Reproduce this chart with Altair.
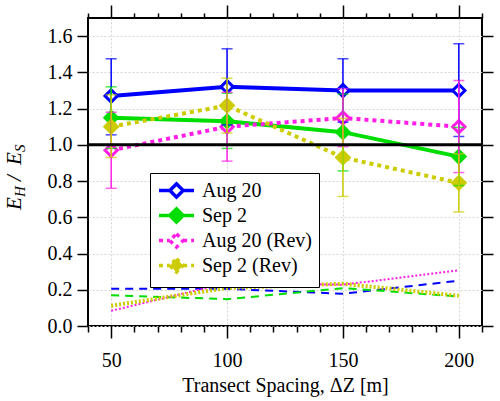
import altair as alt
import pandas as pd

# ---------------- data ----------------
spacing = [50, 100, 150, 200]
series_names = ["Aug 20", "Sep 2", "Aug 20 (Rev)", "Sep 2 (Rev)"]
line_colors = ["#0000ff", "#00dd00", "#ff1ee6", "#cccc00"]
marker_fills = ["#ffffff", "#00dd00", "#ffffff", "#cccc00"]
line_dashes = [[1, 0], [1, 0], [4, 4], [4, 4]]
solid_series = ["Aug 20", "Sep 2"]
dotted_series = ["Aug 20 (Rev)", "Sep 2 (Rev)"]
open_series = ["Aug 20", "Aug 20 (Rev)"]
filled_series = ["Sep 2", "Sep 2 (Rev)"]

ratio = {
    "Aug 20": [1.27, 1.32, 1.30, 1.30],
    "Sep 2": [1.15, 1.13, 1.07, 0.935],
    "Aug 20 (Rev)": [0.97, 1.10, 1.148, 1.10],
    "Sep 2 (Rev)": [1.10, 1.217, 0.93, 0.79],
}
ratio_lo = {
    "Aug 20": [1.055, 1.11, 1.125, 1.046],
    "Sep 2": [0.98, 0.98, 0.856, 0.775],
    "Aug 20 (Rev)": [0.76, 0.91, 0.99, 0.847],
    "Sep 2 (Rev)": [0.93, 1.065, 0.715, 0.63],
}
ratio_hi = {
    "Aug 20": [1.475, 1.53, 1.475, 1.558],
    "Sep 2": [1.32, 1.285, 1.28, 1.096],
    "Aug 20 (Rev)": [1.18, 1.29, 1.31, 1.355],
    "Sep 2 (Rev)": [1.276, 1.368, 1.146, 0.95],
}
low_ratio = {
    "Aug 20": [0.205, 0.205, 0.178, 0.25],
    "Sep 2": [0.17, 0.148, 0.209, 0.163],
    "Aug 20 (Rev)": [0.084, 0.237, 0.228, 0.307],
    "Sep 2 (Rev)": [0.112, 0.21, 0.233, 0.167],
}
reference_level = [1.0]

x_major = [50, 100, 150, 200]
x_minor = [40, 60, 70, 80, 90, 110, 120, 130, 140, 160, 170, 180, 190, 210]
y_ticks = [0.0, 0.2, 0.4, 0.6, 0.8, 1.0, 1.2, 1.4, 1.6]

# ---------------- tables ----------------
rows = []
for s in series_names:
    for i, xv in enumerate(spacing):
        rows.append({"series": s, "spacing": xv, "ratio": ratio[s][i],
                     "lo": ratio_lo[s][i], "hi": ratio_hi[s][i],
                     "low": low_ratio[s][i]})
df = pd.DataFrame(rows)

FONT = "Liberation Serif, 'Times New Roman', Times, serif"
xs = alt.Scale(domain=[40, 210], nice=False, zero=False)
ys = alt.Scale(domain=[0, 1.7], nice=False, zero=False)
# colour scale for visible marks uses reversed order so its (disabled) legend is not merged
col_scale = alt.Scale(domain=series_names[::-1], range=line_colors[::-1])
stroke_scale = alt.Scale(domain=series_names, range=line_colors)
fill_scale = alt.Scale(domain=series_names, range=marker_fills)
dash_scale = alt.Scale(domain=series_names, range=line_dashes)

def ax(**kw):
    base = dict(labelFont=FONT, labelFontSize=20, labelColor="black",
                titleFont=FONT, titleFontSize=20, titleColor="black", titleFontWeight="normal",
                tickColor="black", tickWidth=1.5, domain=False)
    base.update(kw)
    return alt.Axis(**base)

def no_axes_xy(field_y="ratio"):
    return dict(x=alt.X("spacing:Q", scale=xs, axis=None),
                y=alt.Y(f"{field_y}:Q", scale=ys, axis=None))

color_enc = alt.Color("series:N", scale=col_scale, legend=None)

# ---------------- main lines (bottom/left axes) ----------------
lines_solid = alt.Chart(df).transform_filter(
    alt.FieldOneOfPredicate(field="series", oneOf=solid_series)
).mark_line(strokeWidth=4).encode(
    x=alt.X("spacing:Q", scale=xs,
            axis=ax(orient="bottom", values=x_major, tickSize=12, labelPadding=12,
                    title="Transect Spacing, ΔZ [m]", titlePadding=5, grid=True,
                    gridColor="#d4d4d4", gridDash=[2, 2], gridWidth=1)),
    y=alt.Y("ratio:Q", scale=ys,
            axis=ax(orient="left", values=y_ticks, format=".1f", tickSize=11,
                    labelPadding=5, title=None, grid=True,
                    gridColor="#d4d4d4", gridDash=[2, 2], gridWidth=1)),
    color=color_enc,
)

lines_dotted = alt.Chart(df).transform_filter(
    alt.FieldOneOfPredicate(field="series", oneOf=dotted_series)
).mark_line(strokeWidth=4, strokeDash=[4, 4]).encode(color=color_enc, **no_axes_xy())

points_open = alt.Chart(df).transform_filter(
    alt.FieldOneOfPredicate(field="series", oneOf=open_series)
).mark_point(shape="diamond", size=150, strokeWidth=3, filled=False, fill="white",
             fillOpacity=1, opacity=1).encode(color=color_enc, **no_axes_xy())

points_filled = alt.Chart(df).transform_filter(
    alt.FieldOneOfPredicate(field="series", oneOf=filled_series)
).mark_point(shape="diamond", size=280, filled=True, opacity=1).encode(
    color=color_enc, **no_axes_xy())

errbars = alt.Chart(df).mark_errorbar(ticks={"size": 11}, thickness=1.5).encode(
    x=alt.X("spacing:Q", scale=xs, axis=None),
    y=alt.Y("lo:Q", scale=ys, axis=None),
    y2="hi:Q",
    color=color_enc,
)

ref_rule = alt.Chart(pd.DataFrame({"level": reference_level})).mark_rule(
    color="black", strokeWidth=3).encode(y=alt.Y("level:Q", scale=ys, axis=None))

# legend source (invisible marks; legend owns stroke/fill/strokeDash channels)
LEG_PATH = "M-2,0L-0.76,0M0.76,0L2,0M0,-0.76L0.76,0L0,0.76L-0.76,0Z"
leg = alt.Legend(orient="none", legendX=62, legendY=155, title=None,
                 symbolType=LEG_PATH, symbolSize=306, symbolStrokeWidth=3.5, symbolOpacity=1,
                 labelFont=FONT, labelFontSize=20, labelColor="black",
                 strokeColor="black", fillColor="white", padding=7, rowPadding=-4,
                 labelOffset=15, symbolOffset=9)
legend_layer = alt.Chart(df).mark_point(opacity=0, shape="diamond").encode(
    stroke=alt.Stroke("series:N", scale=stroke_scale, legend=leg),
    fill=alt.Fill("series:N", scale=fill_scale, legend=leg),
    strokeDash=alt.StrokeDash("series:N", scale=dash_scale, legend=leg),
    **no_axes_xy(),
)

# ---------------- lower thin lines + extra axes ----------------
low_styles = {
    "Aug 20": dict(color=line_colors[0], strokeDash=[8, 6], strokeWidth=2),
    "Sep 2": dict(color=line_colors[1], strokeDash=[8, 6], strokeWidth=2),
    "Aug 20 (Rev)": dict(color=line_colors[2], strokeDash=[2, 2], strokeWidth=2),
    "Sep 2 (Rev)": dict(color=line_colors[3], strokeDash=[2, 2], strokeWidth=4),
}
x_axes = [
    ax(orient="bottom", values=x_minor, tickSize=6, labels=False, title=None, grid=False),
    ax(orient="top", values=x_major, tickSize=13, labels=False, title=None, grid=False),
    ax(orient="top", values=x_minor, tickSize=5, labels=False, title=None, grid=False),
    None,
]
y_axes = [
    ax(orient="right", values=y_ticks, tickSize=11, labels=False, title=None, grid=False),
    None, None, None,
]
low_layers = []
for k, s in enumerate(series_names):
    low_layers.append(
        alt.Chart(df).transform_filter(alt.datum.series == s).mark_line(**low_styles[s]).encode(
            x=alt.X("spacing:Q", scale=xs, axis=x_axes[k]),
            y=alt.Y("low:Q", scale=ys, axis=y_axes[k]),
        )
    )

# ---------------- y title built from text pieces ----------------
one = pd.DataFrame({"a": [0]})
def txt(s, x, y, size):
    return alt.Chart(one).mark_text(text=s, angle=270, align="left", baseline="alphabetic",
                                    font=FONT, fontSize=size, fontStyle="italic",
                                    color="black").encode(x=alt.value(x), y=alt.value(y))

title_parts = [
    txt("E", -67, 192, 21),
    txt("H", -63, 179, 15),
    txt("/", -67, 163, 21),
    txt("E", -67, 147, 21),
    txt("S", -63, 134, 15),
]

chart = alt.layer(
    lines_solid, lines_dotted, *low_layers, points_open, points_filled, errbars,
    ref_rule, legend_layer, *title_parts
).resolve_axis(x="independent", y="independent").properties(
    width=394, height=308,
    autosize=alt.AutoSizeParams(type="none"),
    padding={"left": 88, "top": 18, "right": 18, "bottom": 75},
).configure(font=FONT).configure_view(stroke="black", strokeWidth=2)

chart.save("out.html", embed_options={"renderer": "svg", "actions": False})
